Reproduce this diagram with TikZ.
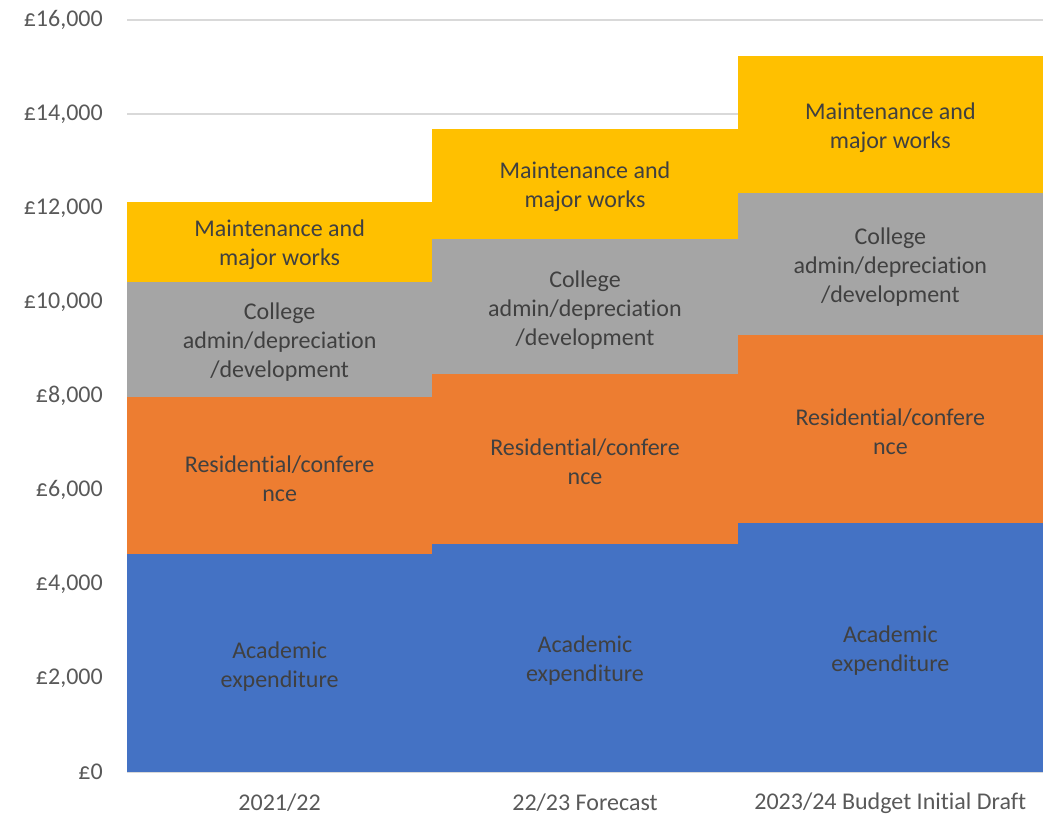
\documentclass[tikz,border=0pt]{standalone}
\usepackage{fontspec}
\setmainfont{Carlito}[Ligatures={NoCommon}]
\definecolor{acad}{HTML}{4472C4}
\definecolor{resid}{HTML}{ED7D31}
\definecolor{coll}{HTML}{A5A5A5}
\definecolor{maint}{HTML}{FFC000}
\definecolor{lbl}{HTML}{404040}
\definecolor{axlbl}{HTML}{595959}
\definecolor{gridc}{HTML}{D9D9D9}
\tikzset{
  chartfont/.style={font=\fontsize{24}{29}\selectfont},
  seglabel/.style={chartfont, text=lbl, align=center, inner sep=0pt, yshift=-3pt},
  ticklabel/.style={chartfont, text=axlbl, anchor=east, inner sep=0pt},
  catlabel/.style={chartfont, text=axlbl, inner sep=0pt},
  gridline/.style={draw=gridc, line width=1.5pt},
}
\begin{document}
\begin{tikzpicture}[x=1pt,y=-1pt]
\useasboundingbox (0,0) rectangle (1053,817);
% gridlines and tick labels
\foreach \k/\lab in {0/{£0},1/{£2,000},2/{£4,000},3/{£6,000},4/{£8,000},5/{£10,000},6/{£12,000},7/{£14,000},8/{£16,000}}{
  \draw[gridline] (127,772-94*\k) -- (1043,772-94*\k);
  \node[ticklabel] (tick\k) at (103,772-94*\k) {\lab};
}
% stacked columns
\foreach \i/\xa/\xb/\a/\r/\c/\m in {1/127/432.3/554.3/397/281.7/202, 2/432.3/737.7/544/374.3/239/128.7, 3/737.7/1043/523/335.3/193.3/56}{
  \fill[acad] (\xa,772) rectangle (\xb,\a);
  \fill[resid] (\xa,\a) rectangle (\xb,\r);
  \fill[coll] (\xa,\r) rectangle (\xb,\c);
  \fill[maint] (\xa,\c) rectangle (\xb,\m);
  \node[seglabel] (acad\i) at ({(\xa+\xb)/2},{(772+\a)/2}) {Academic\\expenditure};
  \node[seglabel] (resid\i) at ({(\xa+\xb)/2},{(\a+\r)/2}) {Residential/confere\\nce};
  \node[seglabel] (coll\i) at ({(\xa+\xb)/2},{(\r+\c)/2}) {College\\admin/depreciation\\/development};
  \node[seglabel] (maint\i) at ({(\xa+\xb)/2},{(\c+\m)/2}) {Maintenance and\\major works};
}
% axis line
\draw[gridline] (127,772.5) -- (1043,772.5);
% category labels
\node[catlabel] (cat1) at (279.6,803) {2021/22};
\node[catlabel] (cat2) at (585,803) {22/23 Forecast};
\node[catlabel] (cat3) at (890.3,803) {2023/24 Budget Initial Draft};
\end{tikzpicture}
\end{document}
